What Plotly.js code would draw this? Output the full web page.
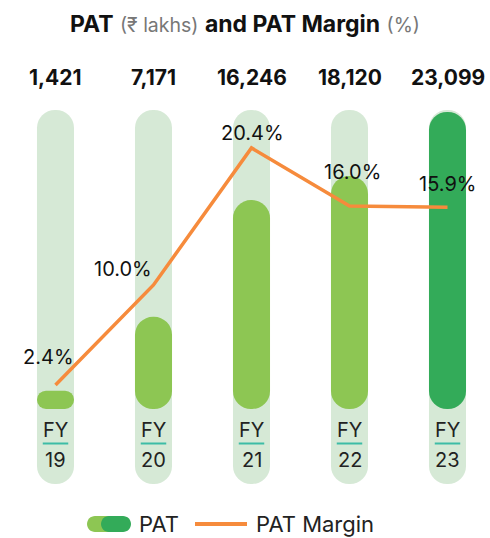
<!DOCTYPE html>
<html><head><meta charset="utf-8">
<script src="https://cdn.plot.ly/plotly-3.0.1.min.js"></script>
<style>html,body{margin:0;padding:0;background:#fff}</style>
</head><body><div id="chart" style="width:490px;height:538px"></div>
<script>
// ---- data ----
const categories = ['FY19', 'FY20', 'FY21', 'FY22', 'FY23'];
const fyTop = ['FY', 'FY', 'FY', 'FY', 'FY'];
const fyYear = ['19', '20', '21', '22', '23'];
const patValues = [1421, 7171, 16246, 18120, 23099];
const patLabels = ['1,421', '7,171', '16,246', '18,120', '23,099'];
const marginValues = [2.4, 10.0, 20.4, 16.0, 15.9];
const marginLabels = ['2.4%', '10.0%', '20.4%', '16.0%', '15.9%'];

// ---- style ----
const FONT = 'Inter, "DejaVu Sans", sans-serif';
const trackColor = '#d6e9d6';
const lightGreen = '#8dc653';
const darkGreen = '#33ab59';
const orange = '#f68b3c';
const teal = '#3dbca6';
const barColors = [lightGreen, lightGreen, lightGreen, lightGreen, darkGreen];
const labelXShift = [-7, -31, 1, 3, 0];
const labelYShift = [28, 16, 15, 34, 23];

// plot geometry (pixels): plot area from y=100 to y=490
const PT = 100, PB = 490;
const py = px => (PB - px) / (PB - PT);   // pixel -> paper y
const yRange = [-6300, 24032];
const y2Range = [-5.57, 24.04];
const trackTop = 23255, trackBottom = -5833;
const barW = 0.378, RAD = 18;

const traces = [
  { type: 'bar', x: categories, y: categories.map(() => trackTop - trackBottom), base: categories.map(() => trackBottom),
    width: barW, marker: { color: trackColor, cornerradius: RAD, line: { width: 0 } }, hoverinfo: 'skip', showlegend: false },
  { type: 'bar', x: categories, y: patValues, base: patValues.map(() => 0),
    width: barW, marker: { color: barColors, cornerradius: RAD, line: { width: 0 } }, name: 'PAT', showlegend: false },
  { type: 'scatter', mode: 'lines', x: categories, y: marginValues, yaxis: 'y2',
    line: { color: orange, width: 3.5 }, name: 'PAT Margin', showlegend: false }
];

const annotations = [];
categories.forEach((c, i) => {
  annotations.push({ x: c, xref: 'x', y: py(77), yref: 'paper', text: patLabels[i], showarrow: false,
    font: { family: FONT, size: 21, weight: 700, color: '#111' }, xanchor: 'center', yanchor: 'middle' });
  annotations.push({ x: c, xref: 'x', y: py(430), yref: 'paper', text: fyTop[i], showarrow: false,
    font: { family: FONT, size: 20, color: '#222' }, xanchor: 'center', yanchor: 'middle' });
  annotations.push({ x: c, xref: 'x', y: py(460), yref: 'paper', text: fyYear[i], showarrow: false,
    font: { family: FONT, size: 20, color: '#222' }, xanchor: 'center', yanchor: 'middle' });
  annotations.push({ x: c, xref: 'x', y: marginValues[i], yref: 'y2', text: marginLabels[i], showarrow: false,
    xshift: labelXShift[i], yshift: labelYShift[i],
    font: { family: FONT, size: 20, color: '#111' }, xanchor: 'center', yanchor: 'middle' });
});
// legend text
annotations.push({ x: 137 / 490, xref: 'paper', y: py(524), yref: 'paper', text: 'PAT', showarrow: false,
  font: { family: FONT, size: 22, color: '#222' }, xanchor: 'left', yanchor: 'middle' });
annotations.push({ x: 254 / 490, xref: 'paper', y: py(524), yref: 'paper', text: 'PAT Margin', showarrow: false,
  font: { family: FONT, size: 22, color: '#222' }, xanchor: 'left', yanchor: 'middle' });

function pill(x0, x1, h) {
  const r = h / 2, k = 0.5523 * r;
  return `M${x0 + r},${-r} L${x1 - r},${-r} C${x1 - r + k},${-r} ${x1},${-k} ${x1},0 C${x1},${k} ${x1 - r + k},${r} ${x1 - r},${r} ` +
         `L${x0 + r},${r} C${x0 + r - k},${r} ${x0},${k} ${x0},0 C${x0},${-k} ${x0 + r - k},${-r} ${x0 + r},${-r} Z`;
}

const shapes = [];
categories.forEach((c, i) => {
  shapes.push({ type: 'line', xref: 'x', yref: 'paper', x0: i - 0.13, x1: i + 0.13, y0: py(443.5), y1: py(443.5),
    line: { color: teal, width: 2 } });
});
shapes.push({ type: 'path', xref: 'paper', yref: 'paper', xsizemode: 'pixel', ysizemode: 'pixel', xanchor: 0, yanchor: py(524),
  path: pill(87, 117, 16), fillcolor: lightGreen, line: { width: 0 } });
shapes.push({ type: 'path', xref: 'paper', yref: 'paper', xsizemode: 'pixel', ysizemode: 'pixel', xanchor: 0, yanchor: py(524),
  path: pill(101, 131, 16), fillcolor: darkGreen, line: { width: 0 } });
shapes.push({ type: 'line', xref: 'paper', yref: 'paper', x0: 195 / 490, x1: 247 / 490, y0: py(524), y1: py(524),
  line: { color: orange, width: 4 } });

const layout = {
  width: 490, height: 538,
  margin: { l: 0, r: 0, t: PT, b: 538 - PB, pad: 0 },
  paper_bgcolor: '#fff', plot_bgcolor: '#fff',
  barmode: 'overlay', showlegend: false,
  title: {
    text: '<b>PAT</b> <span style="font-size:19.5px;color:#777">(₹ lakhs)</span> <b>and PAT Margin</b> <span style="font-size:19.5px;color:#777">(%)</span>',
    x: 0.5, xanchor: 'center', xref: 'paper', y: 1 - 24 / 538, yanchor: 'middle', yref: 'container',
    font: { family: FONT, size: 23, color: '#111' }
  },
  xaxis: { type: 'category', range: [-0.5663, 4.4337], visible: false, fixedrange: true },
  yaxis: { range: yRange, visible: false, fixedrange: true },
  yaxis2: { range: y2Range, overlaying: 'y', visible: false, fixedrange: true },
  annotations: annotations, shapes: shapes
};

Plotly.newPlot('chart', traces, layout, { displayModeBar: false, staticPlot: true });
</script></body></html>
